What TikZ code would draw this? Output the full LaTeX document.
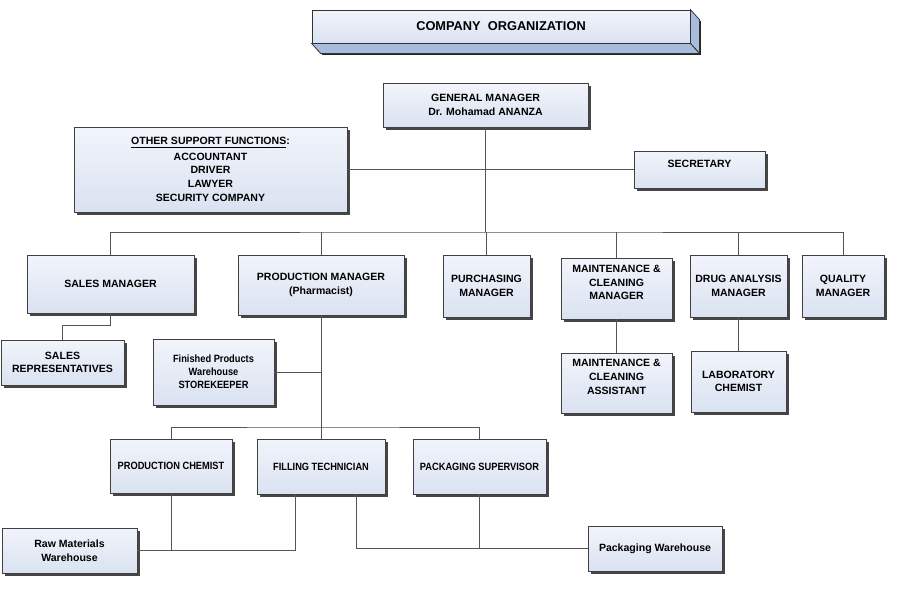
\documentclass[tikz,border=0pt]{standalone}
\usepackage{fontspec}
\setmainfont{Liberation Sans}
\newfontfamily\narrowfam{Liberation Sans}[FakeStretch=0.88]
\usetikzlibrary{shadows}
\definecolor{boxtop}{HTML}{F1F4FB}
\definecolor{boxbottom}{HTML}{DAE2F1}
\definecolor{bevel}{HTML}{A8BDDD}
\definecolor{wire}{HTML}{555555}
\tikzset{
    orgbox/.style={draw=black!75, line width=0.6pt, top color=boxtop, bottom color=boxbottom,
        drop shadow={shadow xshift=2.1pt, shadow yshift=-2.1pt, fill=black!85, opacity=.85},
        align=center, inner sep=2pt, font=\fontsize{7.9}{10.3}\selectfont\bfseries},
    narrowbox/.style={orgbox, font=\fontsize{7.9}{9.6}\selectfont\narrowfam\bfseries},
    titlebox/.style={draw=black!80, line width=0.6pt, top color=boxtop, bottom color=boxbottom,
        minimum width=283.5pt, minimum height=24.75pt, font=\fontsize{9.6}{11}\selectfont\bfseries},
    link/.style={draw=wire, line width=0.6pt}
}

\begin{document}
\begin{tikzpicture}[x=0.75pt, y=-0.75pt]
        \useasboundingbox[fill=white] (0,0) rectangle (900,600);
        \pgfmathsetmacro{\busy}{232}
        \pgfmathsetmacro{\bustwo}{427}
        % Title bar with its bevel
        \node[titlebox] (title) at (501,26.5) {COMPANY\ \ ORGANIZATION};
        \draw[black!85, line width=1.5pt] ([shift={(10,11)}]title.north east) -- ([shift={(10,11)}]title.south east) -- ([shift={(10,11)}]title.south west);
        \filldraw[fill=bevel, draw=black!80, line width=0.6pt] (title.north east) -- ([shift={(9,10)}]title.north east) -- ([shift={(9,10)}]title.south east) -- (title.south east) -- cycle;
        \filldraw[fill=bevel, draw=black!80, line width=0.6pt] (title.south west) -- (title.south east) -- ([shift={(9,10)}]title.south east) -- ([shift={(9,10)}]title.south west) -- cycle;

        % Management
        \node[orgbox, minimum width=153.75pt, minimum height=33pt] (gm) at (485.5,105) {GENERAL MANAGER\\Dr. Mohamad ANANZA};
        \node[orgbox, minimum width=204.75pt, minimum height=63.75pt] (supp) at (210.5,169.5) {\underline{OTHER SUPPORT FUNCTIONS}:\\[1pt]ACCOUNTANT\\DRIVER\\LAWYER\\SECURITY COMPANY};
        \node[orgbox, minimum width=98.25pt, text height=9.75pt, text depth=14.25pt] (sec) at (699.5,170) {SECRETARY};

        % Managers
        \node[orgbox, minimum width=125.25pt, minimum height=43.5pt] (sm) at (110.5,284) {SALES MANAGER};
        \node[orgbox, minimum width=124.5pt, minimum height=45pt] (pm) at (321,285) {PRODUCTION MANAGER\\(Pharmacist)};
        \node[orgbox, minimum width=65.25pt, minimum height=46.5pt] (pur) at (486.5,286) {PURCHASING\\MANAGER};
        \node[orgbox, minimum width=83.25pt, minimum height=45.75pt, text depth=9pt] (mcm) at (616.5,288.5) {MAINTENANCE \&\\CLEANING\\MANAGER};
        \node[orgbox, minimum width=72.75pt, minimum height=46.5pt] (dam) at (738.5,286) {DRUG ANALYSIS\\MANAGER};
        \node[orgbox, minimum width=61.5pt, minimum height=46.5pt] (qm) at (843,286) {QUALITY\\MANAGER};

        % Staff
        \node[orgbox, minimum width=92.25pt, minimum height=33.75pt] (sr) at (62.5,362.5) {SALES\\REPRESENTATIVES};
        \node[narrowbox, minimum width=90.75pt, minimum height=49.5pt] (fpw) at (213.5,372) {Finished Products\\Warehouse\\STOREKEEPER};
        \node[orgbox, minimum width=83.25pt, minimum height=45pt, text depth=9pt] (mca) at (616.5,383) {MAINTENANCE \&\\CLEANING\\ASSISTANT};
        \node[orgbox, minimum width=71.25pt, minimum height=45.75pt] (lc) at (738.5,381.5) {LABORATORY\\CHEMIST};

        % Production floor
        \node[narrowbox, minimum width=91.5pt, minimum height=40.5pt] (pc) at (171,466) {PRODUCTION CHEMIST};
        \node[narrowbox, minimum width=96pt, minimum height=41.25pt] (ft) at (321,466.5) {FILLING TECHNICIAN};
        \node[narrowbox, minimum width=99.75pt, minimum height=41.25pt] (ps) at (479.5,466.5) {PACKAGING SUPERVISOR};
        \node[orgbox, minimum width=101.25pt, minimum height=33.75pt] (rmw) at (69.5,550.5) {Raw Materials\\Warehouse};
        \node[orgbox, minimum width=100.5pt, minimum height=33.75pt] (pw) at (655,548.5) {Packaging Warehouse};

        \coordinate (bus) at (486,\busy);
        \coordinate (bus3) at (321,\bustwo);

        % Connections
        \draw[link] (supp.east) -- (supp.east -| sec.west);
        \draw[link] (gm.south) -- (gm.south |- bus);
        \draw[link] (sm.north) |- (bus) -| (qm.north);
        \foreach \n in {pm,pur,mcm,dam}{
          \draw[link] (\n.north) -- (\n.north |- bus);
          }
        \draw[link] (sm.south) -- ++(0,12) -| (sr.north);
        \draw[link] (pm.south) -- (pm.south |- bus3);
        \draw[link] (fpw.east) -- (fpw.east -| pm.south);
        \draw[link] (pc.north) |- (bus3) -| (ps.north);
        \draw[link] (ft.north) -- (ft.north |- bus3);
        \draw[link] (mcm.south) -- (mca.north);
        \draw[link] (dam.south) -- (lc.north);
        \draw[link] (pc.south) |- (rmw.east);
        \draw[link] (rmw.east) -| ([xshift=-19.5pt]ft.south);
        \draw[link] ([xshift=26.25pt]ft.south) |- (pw.west);
        \draw[link] (ps.south) -- (ps.south |- pw.west);
\end{tikzpicture}
\end{document}
